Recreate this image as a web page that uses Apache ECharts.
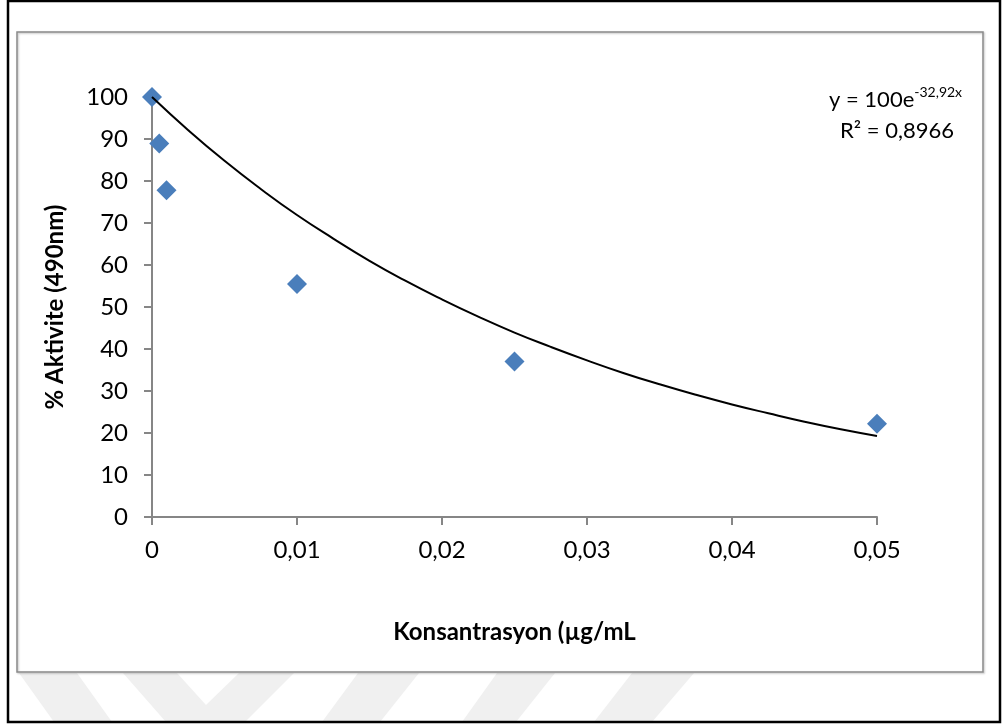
<!DOCTYPE html>
<html>
<head>
<meta charset="utf-8">
<script src="https://cdn.jsdelivr.net/npm/echarts@6/dist/echarts.min.js"></script>
<style>
  html, body { margin: 0; padding: 0; background: #fff; }
  #chart { width: 1008px; height: 727px; }
</style>
</head>
<body>
<div id="chart"></div>
<script>
// measured points
const concentration = [0, 0.0005, 0.001, 0.01, 0.025, 0.05];
const activity = [100, 88.9, 77.8, 55.5, 37.0, 22.2];

// trendline
const trendX = [0, 0.0025, 0.005, 0.0075, 0.01, 0.0125, 0.015, 0.0175, 0.02, 0.0225, 0.025,
  0.0275, 0.03, 0.0325, 0.035, 0.0375, 0.04, 0.0425, 0.045, 0.0475, 0.05];
const trendY = [100, 92.1, 84.8, 78.1, 71.9, 66.3, 61.0, 56.2, 51.8, 47.7, 43.9,
  40.5, 37.3, 34.3, 31.6, 29.1, 26.8, 24.7, 22.7, 20.9, 19.3];

const xTicks = [0, 0.01, 0.02, 0.03, 0.04, 0.05];
const yTicks = [0, 10, 20, 30, 40, 50, 60, 70, 80, 90, 100];

const FONT = "Lato, 'Open Sans', sans-serif";
const axisGrey = "#868686";

const chart = echarts.init(document.getElementById("chart"));

const pts = concentration.map((x, i) => [x, activity[i]]);
const trend = trendX.map((x, i) => [x, trendY[i]]);

const fmtComma = v => String(+v.toFixed(3)).replace(".", ",");

// faint watermark stripes below the chart box
const stripeColor = "#f0f0f0";
const stripes = [
  [[19, 673], [77, 673], [112, 722], [54, 722]],
  [[123, 673], [177, 673], [206, 705], [239, 673], [294, 673], [245, 722], [166, 722]],
  [[358, 673], [419, 673], [380, 722], [322, 722]],
  [[497, 673], [555, 673], [516, 722], [462, 722]],
  [[632, 673], [694, 673], [652, 722], [594, 722]]
].map(p => ({
  type: "polygon", z: 0, silent: true,
  shape: { points: p },
  style: { fill: stripeColor }
}));

chart.setOption({
  animation: false,
  backgroundColor: "#fff",
  textStyle: { fontFamily: FONT },
  grid: {
    left: 152, right: 131, top: 97, bottom: 210,
    outerBoundsMode: "none"
  },
  xAxis: {
    type: "value",
    min: 0, max: 0.05, interval: 0.01,
    name: "Konsantrasyon (µg/mL",
    nameLocation: "middle",
    nameGap: 103,
    nameTextStyle: { fontFamily: FONT, fontSize: 24, fontWeight: "bold", color: "#000" },
    axisLine: { show: true, onZero: false, lineStyle: { color: axisGrey, width: 2 } },
    axisTick: { show: true, inside: false, length: 8, lineStyle: { color: axisGrey, width: 2 } },
    axisLabel: {
      margin: 21, fontSize: 24, color: "#000", fontFamily: FONT,
      formatter: v => fmtComma(v),
      customValues: xTicks
    },
    splitLine: { show: false }
  },
  yAxis: {
    type: "value",
    min: 0, max: 100, interval: 10,
    name: "% Aktivite (490nm)",
    nameLocation: "middle",
    nameGap: 85,
    nameTextStyle: { fontFamily: FONT, fontSize: 24, fontWeight: "bold", color: "#000" },
    axisLine: { show: true, lineStyle: { color: axisGrey, width: 2 } },
    axisTick: { show: true, inside: false, length: 8, lineStyle: { color: axisGrey, width: 2 } },
    axisLabel: {
      margin: 24, fontSize: 24, color: "#000", fontFamily: FONT,
      customValues: yTicks
    },
    splitLine: { show: false }
  },
  series: [
    {
      name: "Trend",
      type: "line",
      data: trend,
      smooth: true,
      showSymbol: false,
      symbol: "none",
      lineStyle: { color: "#000", width: 2 },
      z: 3
    },
    {
      name: "Aktivite",
      type: "scatter",
      data: pts,
      symbol: "diamond",
      symbolSize: 20,
      itemStyle: { color: "#4a7ebb", opacity: 1 },
      z: 2
    }
  ],
  graphic: stripes.concat([
    {
      type: "rect", z: 1, silent: true,
      shape: { x: 8, y: 1, width: 992, height: 721 },
      style: { fill: "none", stroke: "#000", lineWidth: 2.5 }
    },
    {
      type: "rect", z: 1, silent: true,
      shape: { x: 17, y: 32, width: 966, height: 640 },
      style: {
        fill: "none", stroke: "#8a8a8a", lineWidth: 1.5,
        shadowColor: "rgba(0,0,0,0.25)", shadowBlur: 2, shadowOffsetX: 1, shadowOffsetY: 1
      }
    },
    {
      type: "text", z: 5, silent: true,
      left: 829, top: 85,
      style: {
        text: "{m|y = 100e}{s|-32,92x}",
        rich: {
          m: { fontFamily: FONT, fontSize: 22, color: "#000", verticalAlign: "bottom", lineHeight: 26 },
          s: { fontFamily: FONT, fontSize: 14, color: "#000", verticalAlign: "top", lineHeight: 26, padding: [0, 0, 12, 0] }
        }
      }
    },
    {
      type: "text", z: 5, silent: true,
      left: 840, top: 120,
      style: { text: "R² = 0,8966", fontFamily: FONT, fontSize: 22, fill: "#000" }
    }
  ])
});
</script>
</body>
</html>
